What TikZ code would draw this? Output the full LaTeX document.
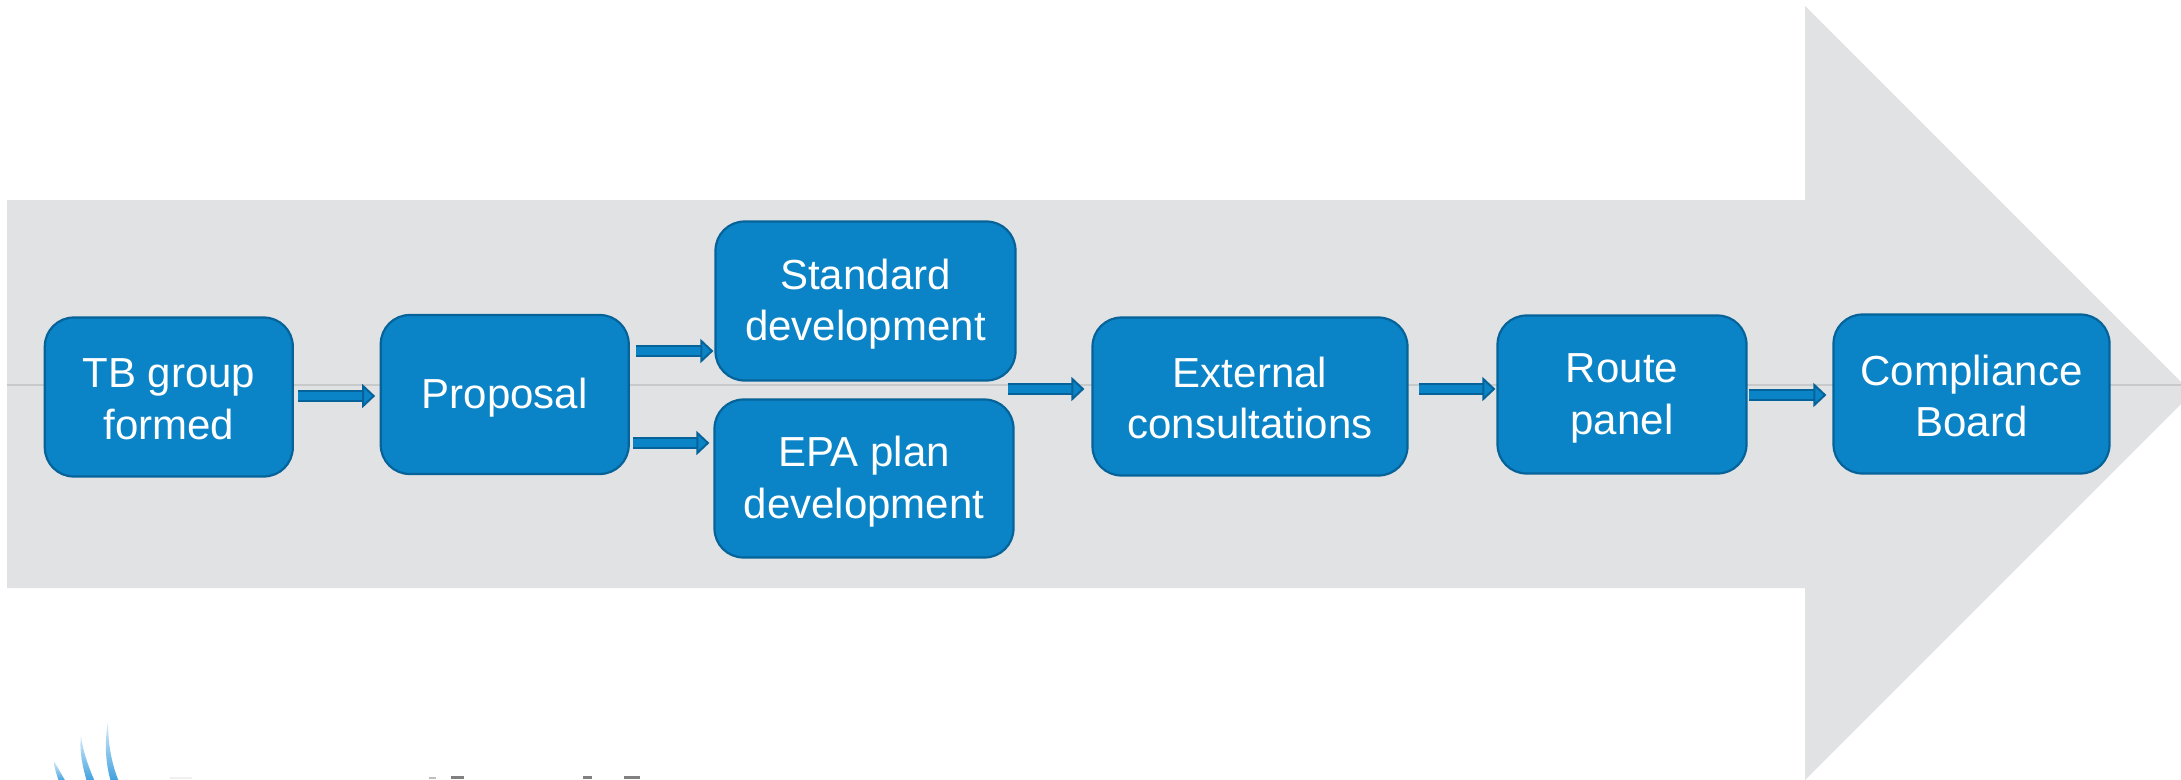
\documentclass[tikz,border=0pt]{standalone}
\usepackage{fontspec}
\setmainfont{Liberation Sans}
\usetikzlibrary{arrows.meta}
\definecolor{boxblue}{HTML}{0A84C6}
\definecolor{boxedge}{HTML}{05639A}
\definecolor{bandgrey}{HTML}{E1E2E4}
\definecolor{ruleGrey}{HTML}{C8C9CB}
\definecolor{logoblue}{HTML}{3C9FDE}
\newcommand\sta{\rule[-3.5pt]{0pt}{40pt}}
\newcommand\stb{\rule[-3pt]{0pt}{40pt}}
\tikzset{
  stepbox/.style={draw=boxedge,fill=boxblue,line width=2.2pt,rounded corners=29pt,
    inner sep=0pt,align=center,text=white,
    font=\fontsize{42}{51.5}\selectfont},
  blockarrow/.style={draw=boxedge,line width=2pt,double=boxblue,double distance=8pt,
    -{Triangle[length=13pt,width=24pt,fill=boxblue,color=boxedge,line width=2pt]}},
  swoosh/.style={top color=logoblue!20,bottom color=logoblue,draw=none},
}
\begin{document}
\begin{tikzpicture}[x=1pt,y=-1pt]
\useasboundingbox (0,0) rectangle (2181,779);
\clip (0,0) rectangle (2181,779);
\fill[white] (0,0) rectangle (2181,779);
% big background arrow
\fill[bandgrey] (7,200) -- (1805,200) -- (1805,6) -- (2192,393) -- (1805,780) -- (1805,588) -- (7,588) -- cycle;
\coordinate (ruleL) at (7,385);
\coordinate (ruleR) at (2181,385);
\draw[ruleGrey,line width=1.2pt] (ruleL) -- (ruleR);
% steps
\node[stepbox,minimum width=248pt,minimum height=159pt] (tb) at (168.8,397) {\sta TB group\\\sta formed};
\node[stepbox,minimum width=248pt,minimum height=159pt] (prop) at (504.75,394.5) {\sta Proposal};
\node[stepbox,minimum width=300pt,minimum height=159pt] (std) at (865.5,301) {\sta Standard\\\sta development};
\node[stepbox,minimum width=299pt,minimum height=158pt] (epa) at (864,478.5) {\sta EPA plan\\\sta development};
\node[stepbox,minimum width=315pt,minimum height=158pt] (ext) at (1250,396.5) {\sta External\\\sta consultations};
\node[stepbox,minimum width=249pt,minimum height=158pt] (route) at (1622,394.5) {\stb Route\\\stb panel};
\node[stepbox,minimum width=276pt,minimum height=159pt] (comp) at (1971.5,394) {\stb Compliance\\\stb Board};
% connectors
\draw[blockarrow] ([xshift=4pt,yshift=1pt]tb.east) -- ([xshift=-4.5pt,yshift=-1.5pt]prop.west);
\draw[blockarrow] ([xshift=6pt,yshift=43.5pt]prop.east) -- ([xshift=-1pt,yshift=-50pt]std.west);
\draw[blockarrow] ([xshift=3pt,yshift=-48.5pt]prop.east) -- ([xshift=-4pt,yshift=35.5pt]epa.west);
\draw[blockarrow] ([xshift=-9pt,yshift=-88pt]std.east) -- ([xshift=-7pt,yshift=7.5pt]ext.west);
\draw[blockarrow] ([xshift=10pt,yshift=7.5pt]ext.east) -- ([xshift=-1pt,yshift=5.5pt]route.west);
\draw[blockarrow] ([xshift=1pt,yshift=-0.5pt]route.east) -- ([xshift=-6pt,yshift=-1pt]comp.west);
% cropped logo
\shade[swoosh] (108,722) .. controls (104,745) and (106,765) .. (111,782) -- (119,782) .. controls (112,765) and (108,745) .. (108,722) -- cycle;
\shade[swoosh] (81,736) .. controls (79,752) and (83,768) .. (87,782) -- (95,782) .. controls (89,768) and (83,752) .. (81,736) -- cycle;
\shade[swoosh] (54,761) .. controls (54,768) and (57,775) .. (59,782) -- (66,782) .. controls (62,775) and (58,768) .. (54,761) -- cycle;
\fill[black!6] (170,777) rectangle (192,779);
\fill[black!25] (429,777) rectangle (436,779);
\fill[black!50] (451,776) rectangle (464,779);
\fill[black!50] (583,776) rectangle (592,779);
\fill[black!50] (624,776) rectangle (640,779);
\end{tikzpicture}
\end{document}
